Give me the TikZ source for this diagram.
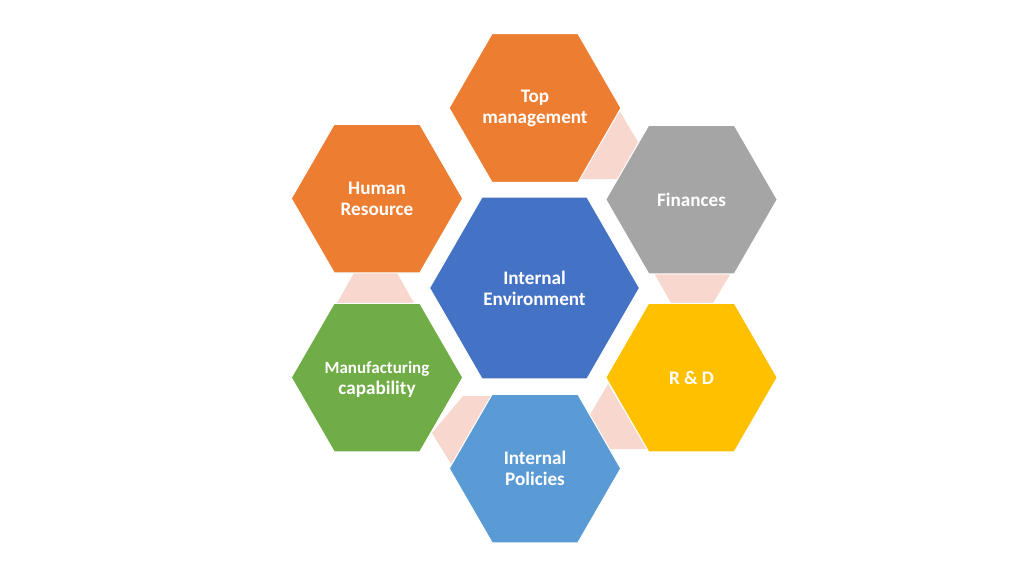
\documentclass[tikz,border=0pt]{standalone}
\usepackage{fontspec}
\setmainfont{Carlito}
\usetikzlibrary{shapes.geometric}
\definecolor{hexorange}{HTML}{ED7D31}
\definecolor{hexgray}{HTML}{A5A5A5}
\definecolor{hexgold}{HTML}{FFC000}
\definecolor{hexblue}{HTML}{4472C4}
\definecolor{hexsky}{HTML}{5B9BD5}
\definecolor{hexgreen}{HTML}{70AD47}
\definecolor{linkpink}{HTML}{F8D8CE}
\tikzset{
	hexnode/.style={regular polygon, regular polygon sides=6, minimum size=3.43cm, inner sep=0pt, draw=white, line width=0.2mm, align=center, text=white, font=\fontsize{10.9}{11.9}\selectfont\bfseries},
	linkshape/.style={fill=linkpink}
}
\begin{document}
\begin{tikzpicture}[x=0.02cm, y=-0.02cm]
		%%%%% START %%%%%
		\useasboundingbox (0, 0) rectangle (1024, 576);
		
		\fill[linkshape] (619, 110) -- (660, 179) -- (578, 179) -- cycle;
		\fill[linkshape] (654, 273) -- (731, 273) -- (713, 303) -- (671, 303) -- cycle;
		\fill[linkshape] (608, 384) -- (647, 449) -- (570, 449) -- cycle;
		\fill[linkshape] (463, 396) -- (500, 396) -- (451, 464) -- (432, 433) -- cycle;
		\fill[linkshape] (354, 273) -- (397, 273) -- (414, 303) -- (337, 303) -- cycle;
		
		\node[hexnode, fill=hexblue, minimum size=4.2cm] (environment) at (534.5, 288) {Internal\\Environment};
		\node[hexnode, fill=hexorange] (top) at (535, 108) {Top\\management};
		\node[hexnode, fill=hexgray] (finances) at (691.5, 199.5) {Finances};
		\node[hexnode, fill=hexgold] (rd) at (691.5, 377.5) {R \& D};
		\node[hexnode, fill=hexsky] (policies) at (535, 468.5) {Internal\\Policies};
		\node[hexnode, fill=hexgreen] (manufacturing) at (377, 377.5) {\fontsize{9.7}{11.9}\selectfont\rule{0pt}{9.5pt}Manufacturing\\capability};
		\node[hexnode, fill=hexorange] (human) at (377, 198.5) {Human\\Resource};
		
		%%%%% END %%%%%
	\end{tikzpicture}
\end{document}
